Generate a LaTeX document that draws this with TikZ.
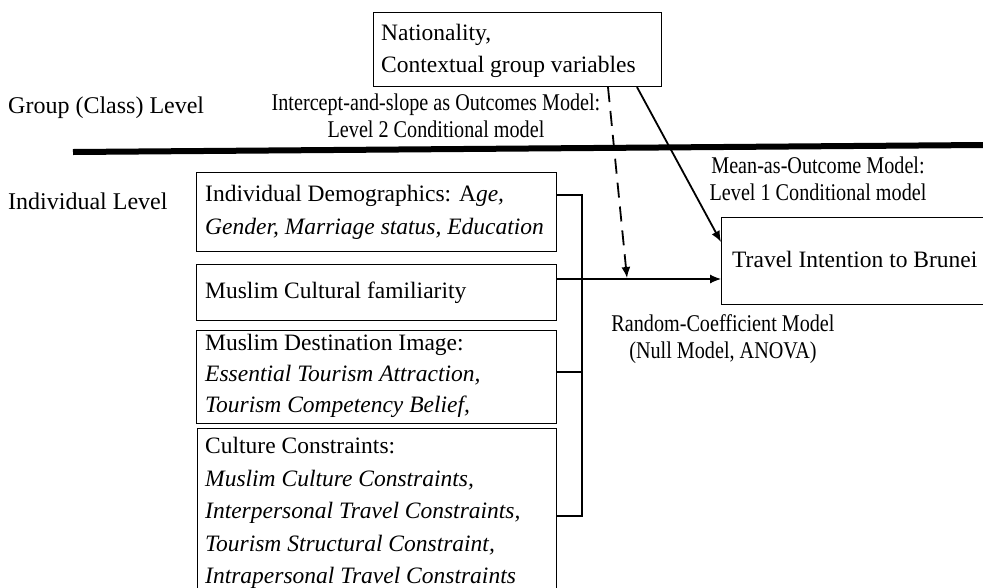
\documentclass[tikz,border=0pt]{standalone}
\usepackage{fontspec}
\setmainfont{Liberation Serif}
\newfontfamily\narrowfont{Liberation Serif}[FakeStretch=0.84]
\usetikzlibrary{arrows.meta}
\begin{document}
\begin{tikzpicture}[x=1pt,y=-1pt,
  frame/.style={draw, line width=1.1pt, anchor=north west, inner sep=0pt},
  boxtext/.style={anchor=west, align=left, inner sep=0pt, font=\fontsize{23.5}{32}\selectfont},
  lvl/.style={anchor=west, inner sep=0pt, font=\fontsize{24}{28}\selectfont},
  note/.style={align=center, inner sep=0pt, font=\narrowfont\fontsize{24}{27}\selectfont},
  thin/.style={line width=1.1pt},
  tip/.style={-{Latex[length=11pt,width=9pt]}}]
\useasboundingbox (0,0) rectangle (983,587);
\clip (0,0) rectangle (983,587);

% level separator
\draw[line width=6pt] (73,152) -- (983,145);

% level captions
\node[lvl] (glevel) at (8,108) {Group (Class) Level};
\node[lvl] (ilevel) at (8,201) {Individual Level};

% level 2 variables
\node[frame, minimum width=288pt, minimum height=74pt] (nat) at (373,12) {};
\node[boxtext] (natt) at ([xshift=8pt,yshift=-1pt]nat.west)
  {Nationality,\\Contextual group variables};

% level 1 predictors
\node[frame, minimum width=360pt, minimum height=79pt] (b1) at (196,172) {};
\node[boxtext, font=\fontsize{23.5}{33}\selectfont] (b1t) at ([xshift=9pt]b1.west)
  {Individual Demographics: A\textit{ge,}\\\textit{Gender, Marriage status, Education}};

\node[frame, minimum width=360pt, minimum height=56pt] (b2) at (196,264) {};
\node[boxtext] (b2t) at ([xshift=9pt]b2.west) {Muslim Cultural familiarity};

\node[frame, minimum width=360pt, minimum height=93pt] (b3) at (196,330) {};
\node[boxtext, font=\fontsize{23.5}{31}\selectfont] (b3t) at ([xshift=9pt,yshift=1pt]b3.west)
  {Muslim Destination Image:\\\textit{Essential Tourism Attraction,}\\\textit{Tourism Competency Belief,}};

\node[frame, minimum width=359pt, minimum height=180pt] (b4) at (197,428) {};
\node[boxtext, anchor=north west, font=\fontsize{23.5}{32.5}\selectfont] (b4t) at (205,437)
  {Culture Constraints:\\\textit{Muslim Culture Constraints,}\\\textit{Interpersonal Travel Constraints,}\\\textit{Tourism Structural Constraint,}\\\textit{Intrapersonal Travel Constraints}};

% outcome
\node[frame, minimum width=280pt, minimum height=87pt] (ti) at (721,217) {};
\node[boxtext] (tit) at ([xshift=11pt,yshift=2pt]ti.west) {Travel Intention to Brunei};

% model labels
\node[note] (l2) at (436,116) {Intercept-and-slope as Outcomes Model:\\Level 2 Conditional model};
\node[note] (l1) at (818,179) {Mean-as-Outcome Model:\\Level 1 Conditional model};
\node[note] (rc) at (723,339) {Random-Coefficient Model\\(Null Model, ANOVA)};

% bus collecting the predictors
\coordinate (bt) at (582,195);
\coordinate (bb) at (582,516);
\draw[thin] (b1.east |- bt) -- (bt) -- (bb) -- (b4.east |- bb);
\draw[thin] (b3.east |- 0,372) -- (582,372);
\draw[thin, tip] (b2.east |- 0,279) -- (ti.west |- 0,279);

% cross-level effects
\coordinate (dtip) at (627,278);
\draw[line width=1.8pt, dash pattern=on 15pt off 9pt, tip] (nat.south -| 608,0) -- (dtip);
\draw[line width=1.8pt, tip] (nat.south -| 637,0) -- (ti.west |- 0,242);
\end{tikzpicture}
\end{document}
